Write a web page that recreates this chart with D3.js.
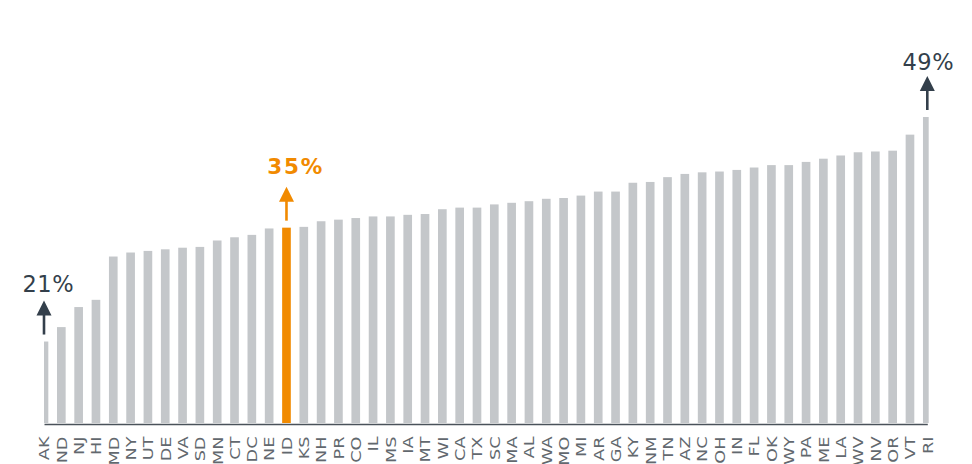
<!DOCTYPE html>
<meta charset='utf-8'>
<style>
    body {
        margin: 0;
        background: #fff;
        font-family: 'DejaVu Sans', Verdana, sans-serif;
    }

    .axis path {
        stroke: #4a525a;
        stroke-width: 1.6;
    }

    .axis text {
        fill: #62686e;
        font-size: 13.4px;
    }

    .bar {
        fill: #c4c7ca;
    }

    .bar.highlight {
        fill: #f18a00;
    }
</style>
<body>
    <script src='https://cdnjs.cloudflare.com/ajax/libs/d3/7.8.5/d3.min.js'></script>
    <script>
        // states, sorted by value
        const states = [
            'AK', 'ND', 'NJ', 'HI', 'MD', 'NY', 'UT', 'DE', 'VA', 'SD', 'MN', 'CT', 'DC',
            'NE', 'ID', 'KS', 'NH', 'PR', 'CO', 'IL', 'MS', 'IA', 'MT', 'WI', 'CA', 'TX',
            'SC', 'MA', 'AL', 'WA', 'MO', 'MI', 'AR', 'GA', 'KY', 'NM', 'TN', 'AZ', 'NC',
            'OH', 'IN', 'FL', 'OK', 'WY', 'PA', 'ME', 'LA', 'WV', 'NV', 'OR', 'VT', 'RI'
        ];

        // percent values
        const values = [
            21.0, 22.8, 25.3, 26.2, 31.6, 32.1, 32.3, 32.5, 32.7, 32.8, 33.6, 34.0, 34.3,
            35.1, 35.2, 35.3, 36.0, 36.2, 36.4, 36.6, 36.6, 36.8, 36.9, 37.5, 37.7, 37.7,
            38.1, 38.3, 38.5, 38.8, 38.9, 39.2, 39.7, 39.7, 40.8, 40.9, 41.5, 41.9, 42.1,
            42.2, 42.4, 42.7, 43.0, 43.0, 43.4, 43.8, 44.2, 44.6, 44.7, 44.8, 46.8, 49.0
        ];

        const highlighted = 'ID';

        // callouts: state and label
        const calloutStates = [ 'AK', 'ID', 'RI' ];
        const calloutLabels = [ '21%', '35%', '49%' ];

        const data = states.map( ( s, i ) => ( { state: s, value: values[ i ] } ) );

        const width = 972, height = 464,
            baseline = 423,
            axisY = 424;

        const svg = d3.select( 'body' ).append( 'svg' )
            .attr( 'width', width )
            .attr( 'height', height );

        // Scales
        let x = d3.scalePoint()
            .domain( states )
            .range( [ 44, 927.3 ] );
        const step = x.step(),
            barWidth = step * 0.5;

        let y = d3.scaleLinear()
            .domain( [ 10.84, 49 ] )
            .range( [ baseline, 117 ] );

        // Bars (clipped at the ends, like the original)
        svg.append( 'clipPath' )
            .attr( 'id', 'plot-clip' )
            .append( 'rect' )
                .attr( 'x', 44 )
                .attr( 'y', 0 )
                .attr( 'width', 928.7 - 44 )
                .attr( 'height', height );

        svg.append( 'g' )
            .attr( 'clip-path', 'url(#plot-clip)' )
            .selectAll( '.bar' )
            .data( data )
            .enter().append( 'rect' )
                .attr( 'class', d => d.state === highlighted ? 'bar highlight' : 'bar' )
                .attr( 'x', d => x( d.state ) - barWidth / 2 )
                .attr( 'y', d => y( d.value ) )
                .attr( 'width', barWidth )
                .attr( 'height', d => baseline - y( d.value ) );

        // Axis
        let xAxis = d3.axisBottom( x )
            .tickSize( 0 )
            .tickSizeOuter( 0 );

        let axisG = svg.append( 'g' )
            .attr( 'class', 'axis' )
            .attr( 'transform', `translate( 0, ${axisY} )` )
            .call( xAxis );

        axisG.select( '.domain' ).attr( 'stroke', '#4a525a' );

        axisG.selectAll( 'text' )
            .attr( 'x', 0 )
            .attr( 'y', 0 )
            .attr( 'dy', '0.36em' )
            .attr( 'fill', '#62686e' )
            .attr( 'font-family', '\'DejaVu Sans\', Verdana, sans-serif' )
            .style( 'text-anchor', 'end' )
            .attr( 'transform', 'translate( 0, 12.5 ) rotate( -90 ) scale( 1.32, 1 )' );

        // Callouts
        const arrowGap = 7, arrowLen = 34, headLen = 15, headWidth = 15;
        const calloutStyle = {
            AK: { color: '#333f4b', weight: 'normal', dx: 4.3, gap: 8.3, size: 22.5, spacing: 0.6 },
            ID: { color: '#f18a00', weight: 'bold', dx: 9.3, gap: 12.3, size: 21.5, spacing: 1.8 },
            RI: { color: '#333f4b', weight: 'normal', dx: 1, gap: 6, size: 22.5, spacing: 0.6 }
        };

        calloutStates.forEach( ( s, i ) => {
            const d = data.find( e => e.state === s );
            const st = calloutStyle[ s ];
            const cx = x( s );
            const bottom = y( d.value ) - arrowGap;
            const tip = bottom - arrowLen;

            let g = svg.append( 'g' ).attr( 'class', 'callout' );

            g.append( 'line' )
                .attr( 'x1', cx )
                .attr( 'x2', cx )
                .attr( 'y1', bottom )
                .attr( 'y2', tip + headLen - 1 )
                .attr( 'stroke', st.color )
                .attr( 'stroke-width', 2.6 );

            g.append( 'path' )
                .attr( 'd', `M${cx},${tip} L${cx + headWidth / 2},${tip + headLen} L${cx - headWidth / 2},${tip + headLen} Z` )
                .attr( 'fill', st.color );

            g.append( 'text' )
                .attr( 'x', cx + st.dx )
                .attr( 'y', tip - st.gap )
                .attr( 'text-anchor', 'middle' )
                .attr( 'fill', st.color )
                .attr( 'font-size', st.size + 'px' )
                .attr( 'font-weight', st.weight )
                .attr( 'letter-spacing', st.spacing + 'px' )
                .text( calloutLabels[ i ] );
        } );
    </script>
</body>
